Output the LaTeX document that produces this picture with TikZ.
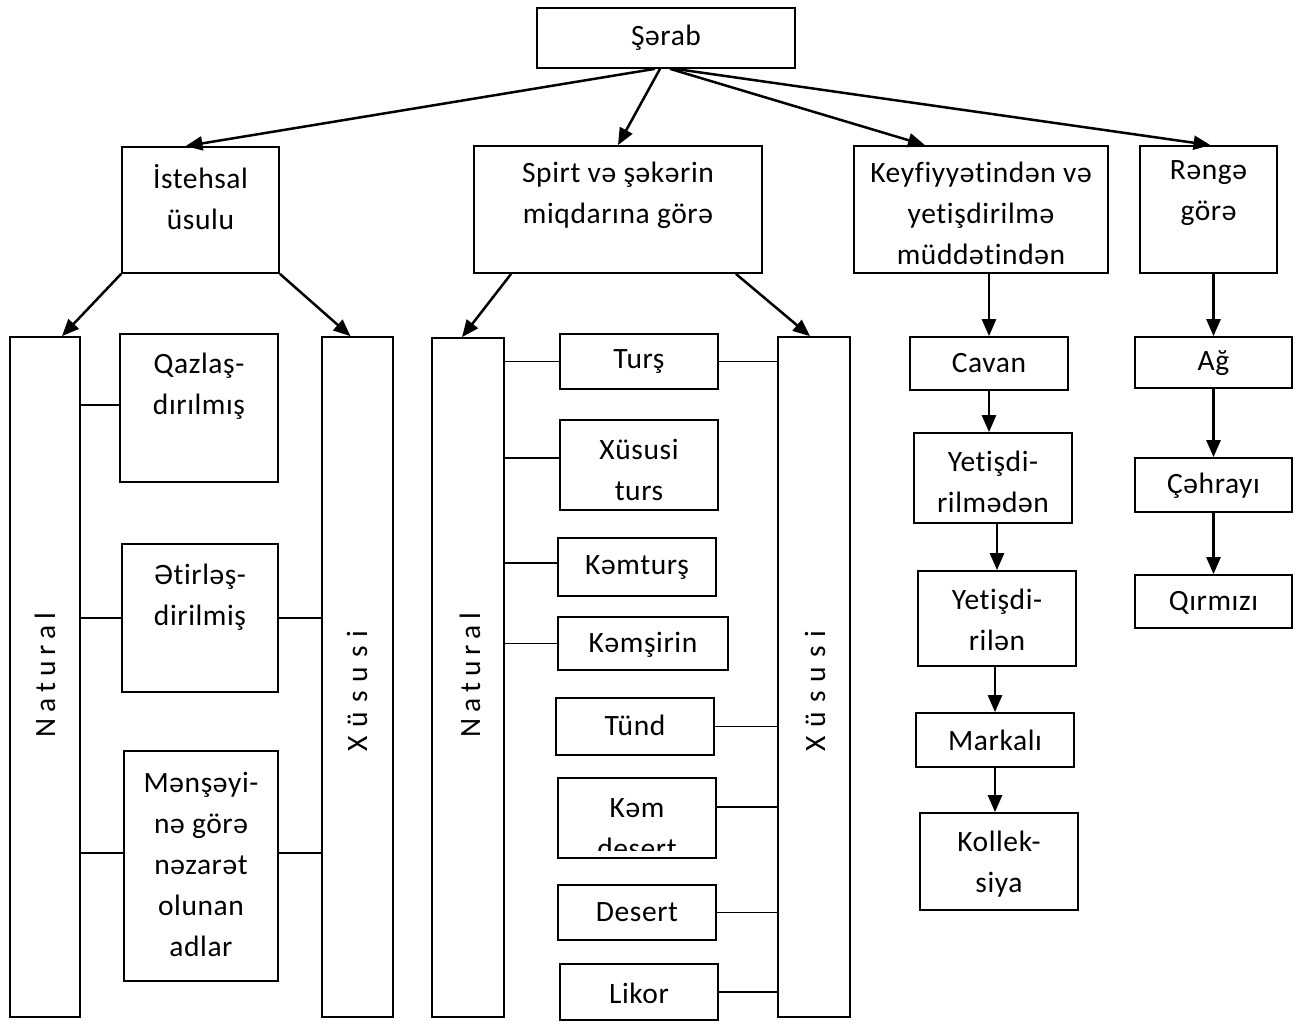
\documentclass[tikz,border=0pt]{standalone}
\usepackage{fontspec}
\setmainfont{Carlito}[LetterSpace=2, Ligatures={NoCommon,NoRequired,NoContextual}, Contextuals=NoAlternate]
\usetikzlibrary{arrows.meta,calc}
\tikzset{
  box/.style={draw, line width=1.7pt, rectangle, inner sep=0pt},
  txt/.style={align=center, inner sep=0pt, font=\fontsize{29.5}{41}\selectfont},
  arr/.style={line width=2.5pt, -{Triangle[length=17pt,width=14pt]}},
  link/.style={line width=1.4pt},
}
\newcommand{\bx}[7]{% name x1 y1 x2 y2 texty text
  \pgfmathsetmacro{\bw}{#4-#2}\pgfmathsetmacro{\bh}{#5-#3}
  \pgfmathsetmacro{\cx}{(#2+#4)/2}\pgfmathsetmacro{\cy}{(#3+#5)/2}
  \node[box, minimum width=\bw pt, minimum height=\bh pt] (#1) at (\cx,\cy) {};
  \node[txt] (#1-t) at (\cx,#6) {#7};
}
\newcommand{\lsp}{\hspace{0.2em}}
\newcommand{\xsp}{\hspace{0.3em}}
\begin{document}
\begin{tikzpicture}[x=1pt,y=-1pt]
\useasboundingbox (0,0) rectangle (1304,1024);
% top
\bx{sarab}{537}{8}{795}{68}{38}{Şərab}
\bx{ist}{122}{147}{279}{273}{197}{İstehsal\\üsulu}
\bx{spirt}{474}{146}{762}{273}{195}{Spirt və şəkərin\\miqdarına görə}
\bx{keyf}{854}{146}{1108}{273}{213}{Keyfiyyətindən və\\yetişdirilmə\\müddətindən}
\bx{reng}{1140}{146}{1277}{273}{193}{Rəngə\\görə}
% left column
\bx{nat1}{10}{337}{80}{1017}{677}{}
\node[txt, rotate=90] (nat1-l) at (45,675) {N\lsp a\lsp t\lsp u\lsp r\lsp a\lsp l};
\bx{xus1}{322}{337}{393}{1017}{690}{}
\node[txt, rotate=90] (xus1-l) at (357,691) {X\xsp ü\xsp s\xsp u\xsp s\xsp i};
\bx{qaz}{120}{334}{278}{482}{386}{Qazlaş-\\dırılmış}
\bx{etir}{122}{544}{278}{692}{597}{Ətirləş-\\dirilmiş}
\bx{mens}{124}{751}{278}{981}{864}{Mənşəyi-\\nə görə\\nəzarət\\olunan\\adlar}
% middle column
\bx{nat2}{432}{338}{504}{1017}{677}{}
\node[txt, rotate=90] (nat2-l) at (470,675) {N\lsp a\lsp t\lsp u\lsp r\lsp a\lsp l};
\bx{xus2}{778}{337}{850}{1017}{690}{}
\node[txt, rotate=90] (xus2-l) at (815,691) {X\xsp ü\xsp s\xsp u\xsp s\xsp i};
\bx{turs}{560}{334}{718}{389}{362}{Turş}
\bx{xturs}{560}{420}{718}{510}{470}{Xüsusi\\turs}
\bx{kemt}{558}{538}{716}{596}{568}{Kəmturş}
\bx{kems}{558}{617}{728}{670}{645}{Kəmşirin}
\bx{tund}{556}{698}{714}{755}{725}{Tünd}
\node[box, minimum width=158pt, minimum height=80pt] (kemd) at (637,818) {};
\begin{scope}
  \clip (559,779) rectangle (715,850);
  \node[txt] (kemd-t) at (637,829) {Kəm\\desert};
\end{scope}
\bx{desert}{558}{885}{716}{940}{912}{Desert}
\bx{likor}{560}{964}{718}{1020}{993}{Likor}
% right columns
\bx{cavan}{910}{337}{1068}{390}{363}{Cavan}
\bx{yet1}{914}{433}{1072}{523}{482}{Yetişdi-\\rilmədən}
\bx{yet2}{918}{571}{1076}{666}{620}{Yetişdi-\\rilən}
\bx{mark}{916}{713}{1074}{767}{740}{Markalı}
\bx{koll}{920}{813}{1078}{910}{864}{Kollek-\\siya}
\bx{ag}{1135}{337}{1292}{388}{363}{Ağ}
\bx{cehr}{1135}{458}{1292}{512}{486}{Çəhrayı}
\bx{qirm}{1135}{575}{1292}{628}{603}{Qırmızı}
% arrows from top
\draw[arr] ([xshift=-11pt]sarab.south) -- ([xshift=-15pt]ist.north);
\draw[arr] ([xshift=-6pt]sarab.south) -- (spirt.north);
\draw[arr] ([xshift=4pt]sarab.south) -- ([xshift=-56pt]keyf.north);
\draw[arr] ([xshift=9pt]sarab.south) -- ([xshift=2pt]reng.north);
\draw[arr] (ist.south west) -- ([xshift=17pt]nat1.north);
\draw[arr] (ist.south east) -- ([xshift=-7pt]xus1.north);
\draw[arr] ([xshift=38pt]spirt.south west) -- ([xshift=-6pt]nat2.north);
\draw[arr] ([xshift=-27pt]spirt.south east) -- ([xshift=-4pt]xus2.north);
\draw[arr] (cavan.north |- keyf.south) -- (cavan.north);
\draw[arr] (ag.north |- reng.south) -- (ag.north);
\draw[arr] (cavan.south) -- (cavan.south |- yet1.north);
\draw[arr] (yet2.north |- yet1.south) -- (yet2.north);
\draw[arr] (mark.north |- yet2.south) -- (mark.north);
\draw[arr] (mark.south) -- (mark.south |- koll.north);
\draw[arr] (cehr.north |- ag.south) -- (cehr.north);
\draw[arr] (qirm.north |- cehr.south) -- (qirm.north);
% links left column
\draw[link] (nat1.east |- 0,405) -- (qaz.west |- 0,405);
\draw[link] (nat1.east |- etir.west) -- (etir.west);
\draw[link] (etir.east) -- (xus1.west |- etir.east);
\draw[link] ([yshift=13pt]mens.west -| nat1.east) -- ([yshift=13pt]mens.west);
\draw[link] ([yshift=13pt]mens.east) -- ([yshift=13pt]mens.east -| xus1.west);
% links middle column
\draw[link] (nat2.east |- turs.west) -- (turs.west);
\draw[link] (turs.east) -- (xus2.west |- turs.east);
\draw[link] ([yshift=7pt]xturs.west -| nat2.east) -- ([yshift=7pt]xturs.west);
\draw[link] ([yshift=4pt]kemt.west -| nat2.east) -- ([yshift=4pt]kemt.west);
\draw[link] (nat2.east |- kems.west) -- (kems.west);
\draw[link] (tund.east) -- (xus2.west |- tund.east);
\draw[link] ([yshift=11pt]kemd.east) -- ([yshift=11pt]kemd.east -| xus2.west);
\draw[link] (desert.east) -- (xus2.west |- desert.east);
\draw[link] (likor.east) -- (xus2.west |- likor.east);
\end{tikzpicture}
\end{document}
